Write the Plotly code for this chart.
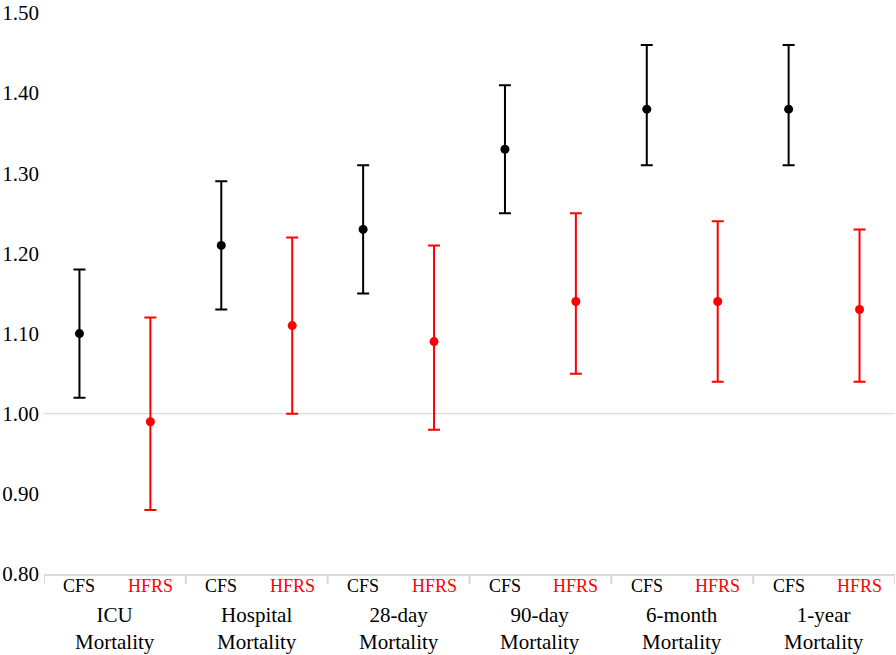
import plotly.graph_objects as go

groups = ["ICU<br>Mortality", "Hospital<br>Mortality", "28-day<br>Mortality",
          "90-day<br>Mortality", "6-month<br>Mortality", "1-year<br>Mortality"]
cfs_est = [1.10, 1.21, 1.23, 1.33, 1.38, 1.38]
cfs_lo = [1.02, 1.13, 1.15, 1.25, 1.31, 1.31]
cfs_hi = [1.18, 1.29, 1.31, 1.41, 1.46, 1.46]
hfrs_est = [0.99, 1.11, 1.09, 1.14, 1.14, 1.13]
hfrs_lo = [0.88, 1.00, 0.98, 1.05, 1.04, 1.04]
hfrs_hi = [1.12, 1.22, 1.21, 1.25, 1.24, 1.23]
yticks = [0.80, 0.90, 1.00, 1.10, 1.20, 1.30, 1.40, 1.50]

FONT = "Liberation Serif"
BLACK = "#000000"
RED = "#ff0000"

n = len(groups)
x_cfs = [2 * i + 0.5 for i in range(n)]
x_hfrs = [2 * i + 1.5 for i in range(n)]

fig = go.Figure()

def add_series(xs, est, lo, hi, color, name):
    fig.add_trace(go.Scatter(
        x=xs, y=est, mode="markers", name=name,
        marker=dict(color=color, size=9),
        error_y=dict(type="data", symmetric=False,
                     array=[h - e for h, e in zip(hi, est)],
                     arrayminus=[e - l for e, l in zip(est, lo)],
                     color=color, thickness=2, width=6),
        showlegend=False,
    ))

add_series(x_cfs, cfs_est, cfs_lo, cfs_hi, BLACK, "CFS")
add_series(x_hfrs, hfrs_est, hfrs_lo, hfrs_hi, RED, "HFRS")

TOP, BOT = 13, 81
plot_h = 655 - TOP - BOT
shapes = [dict(type="line", xref="x", yref="y", x0=0, x1=2 * n, y0=1.0, y1=1.0,
               line=dict(color="#d4d4d4", width=1), layer="below")]
for i in range(n + 1):
    shapes.append(dict(type="line", xref="x", yref="paper", x0=2 * i, x1=2 * i,
                       y0=0, y1=-10 / plot_h, line=dict(color="#d9d9d9", width=2)))

annotations = []
for i in range(n):
    annotations.append(dict(x=x_cfs[i], y=0, xref="x", yref="paper", text="CFS",
                            showarrow=False, yanchor="middle", yshift=-12,
                            font=dict(family=FONT, size=18, color=BLACK)))
    annotations.append(dict(x=x_hfrs[i], y=0, xref="x", yref="paper", text="HFRS",
                            showarrow=False, yanchor="middle", yshift=-12,
                            font=dict(family=FONT, size=18, color=RED)))
    annotations.append(dict(x=2 * i + 1, y=0, xref="x", yref="paper", text=groups[i],
                            showarrow=False, yanchor="middle", yshift=-54,
                            font=dict(family=FONT, size=21, color=BLACK)))

fig.update_layout(
    width=896, height=655,
    margin=dict(l=44, r=1, t=TOP, b=BOT, autoexpand=False),
    plot_bgcolor="white", paper_bgcolor="white",
    font=dict(family=FONT, size=18, color=BLACK),
    xaxis=dict(range=[0, 2 * n], showgrid=False, zeroline=False, showticklabels=False,
               showline=True, linecolor="#d9d9d9", linewidth=2, ticks="",
               automargin=False),
    yaxis=dict(range=[0.80, 1.50], tickvals=yticks,
               ticktext=[f"{v:.2f}" for v in yticks],
               showgrid=False, zeroline=False, showline=False, ticks="",
               automargin=False, ticklabelstandoff=4, ticklabeloverflow="allow",
               tickfont=dict(family=FONT, size=21, color=BLACK)),
    shapes=shapes, annotations=annotations,
)

fig.write_html("out.html", config={"displayModeBar": False},
               post_script="document.body.style.margin='0';document.body.style.overflow='hidden';")
